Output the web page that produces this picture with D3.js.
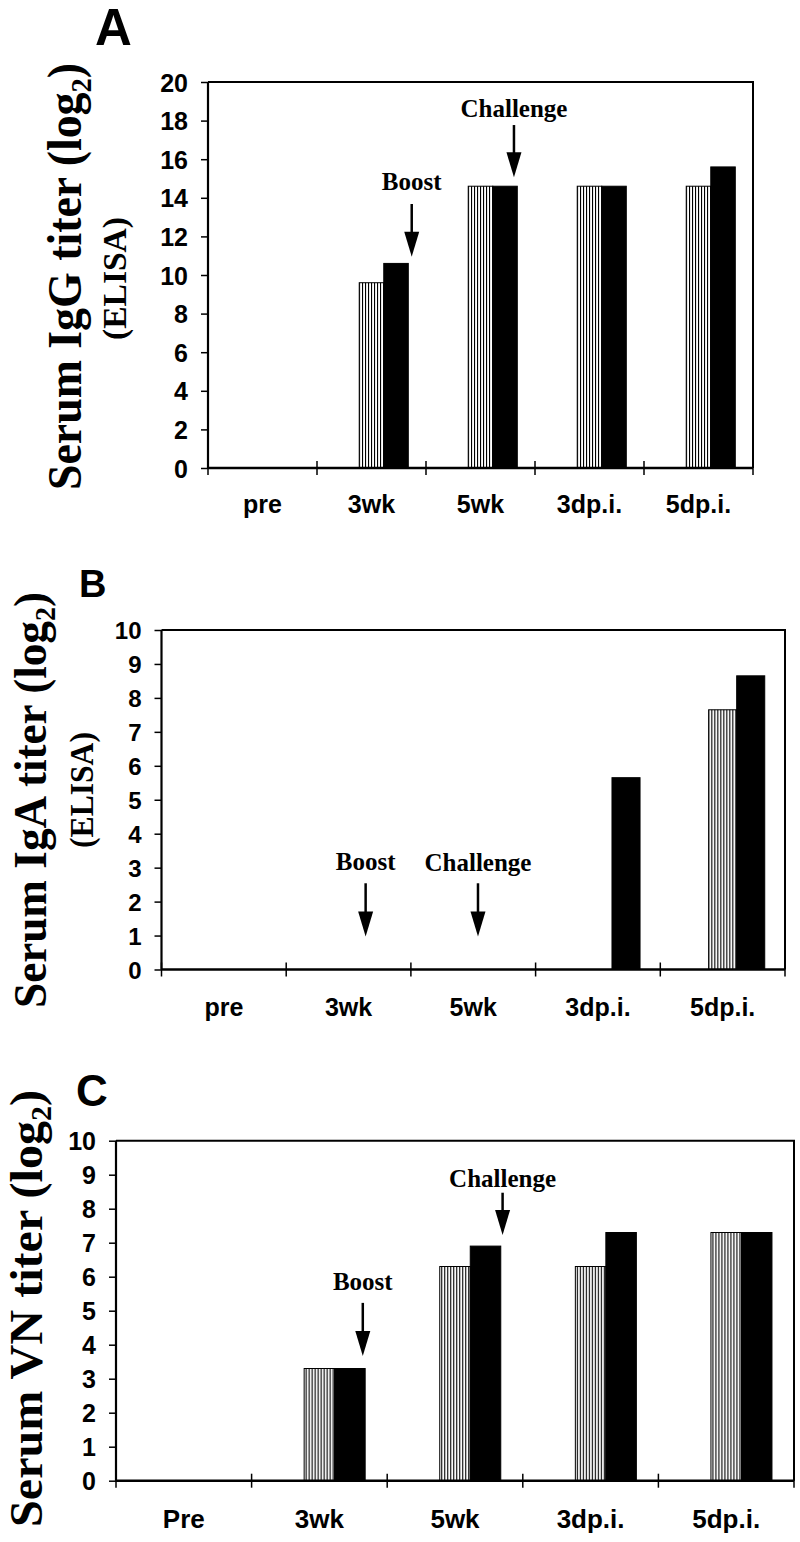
<!DOCTYPE html>
<html>
<head>
<meta charset="utf-8">
<script src="https://cdn.jsdelivr.net/npm/d3@7"></script>
<style>
  html, body { margin: 0; padding: 0; background: #fff; }
  svg { display: block; }
</style>
</head>
<body>
<svg id="chart" width="800" height="1542"></svg>
<script>
// ---------------- DATA ----------------
const categoriesAB = ["pre", "3wk", "5wk", "3dp.i.", "5dp.i."];
const categoriesC  = ["Pre", "3wk", "5wk", "3dp.i.", "5dp.i."];
const seriesKeys   = ["blank", "hatched", "solid"];

// Panel A: Serum IgG (ELISA)
const igGBlank   = [0, 0, 0, 0, 0];
const igGHatched = [0, 9.6, 14.6, 14.6, 14.6];
const igGSolid   = [0, 10.6, 14.6, 14.6, 15.6];
const ticksA     = [0, 2, 4, 6, 8, 10, 12, 14, 16, 18, 20];

// Panel B: Serum IgA (ELISA)
const igABlank   = [0, 0, 0, 0, 0];
const igAHatched = [0, 0, 0, 0, 7.65];
const igASolid   = [0, 0, 0, 5.65, 8.65];
const ticksB     = [0, 1, 2, 3, 4, 5, 6, 7, 8, 9, 10];

// Panel C: Serum VN titer
const vnBlank    = [0, 0, 0, 0, 0];
const vnHatched  = [0, 3.3, 6.3, 6.3, 7.3];
const vnSolid    = [0, 3.3, 6.9, 7.3, 7.3];
const ticksC     = [0, 1, 2, 3, 4, 5, 6, 7, 8, 9, 10];

// Annotations (category, position within band, arrow tip / tail / label in data units)
const annotA = [
  { label: "Boost",     cat: "3wk", frac: 0.869, tip: 10.95, tail: 13.68, text: 14.4 },
  { label: "Challenge", cat: "5wk", frac: 0.807, tip: 15.06, tail: 17.77, text: 18.17 }
];
const annotB = [
  { label: "Boost",     cat: "3wk", frac: 0.637, tip: 0.97, tail: 2.54, text: 2.93 },
  { label: "Challenge", cat: "5wk", frac: 0.538, tip: 0.97, tail: 2.54, text: 2.90 }
];
const annotC = [
  { label: "Boost",     cat: "3wk", frac: 0.82,  tip: 3.67, tail: 5.23, text: 5.6 },
  { label: "Challenge", cat: "5wk", frac: 0.851, tip: 7.23, tail: 8.47, text: 8.64 }
];

// ---------------- DRAW ----------------
const svg = d3.select("#chart");
const SANS = "'Liberation Sans', Arial, Helvetica, sans-serif";
const SERIF = "'Liberation Serif', 'Times New Roman', Times, serif";

const defs = svg.append("defs");
const pat = defs.append("pattern")
  .attr("id", "vhatch")
  .attr("patternUnits", "userSpaceOnUse")
  .attr("width", 3).attr("height", 10);
pat.append("rect").attr("width", 3).attr("height", 10).attr("fill", "#fff");
pat.append("rect").attr("x", 0).attr("width", 1.1).attr("height", 10).attr("fill", "#000");

const fills = { blank: "#fff", hatched: "url(#vhatch)", solid: "#000" };

function drawPanel(cfg) {
  const g = svg.append("g");
  const { left, right, top, bottom } = cfg;

  const x0 = d3.scaleBand().domain(cfg.categories).range([left, right]).padding(0);
  const bw = x0.bandwidth();
  const f = 0.225;
  const x1 = d3.scaleBand().domain(seriesKeys)
    .range([bw * (0.5 - 1.5 * f), bw * (0.5 + 1.5 * f)]).padding(0);
  const y = d3.scaleLinear().domain([0, cfg.yMax]).range([bottom, top]);

  // rows of data
  const rows = cfg.categories.map((c, i) => ({
    cat: c,
    values: seriesKeys.map(k => ({ key: k, value: cfg.series[k][i] }))
  }));

  // bars
  const grp = g.selectAll("g.cat").data(rows).join("g")
    .attr("class", "cat")
    .attr("transform", d => `translate(${x0(d.cat)},0)`);
  grp.selectAll("rect").data(d => d.values.filter(v => v.value > 0)).join("rect")
    .attr("x", d => x1(d.key))
    .attr("width", x1.bandwidth())
    .attr("y", d => y(d.value))
    .attr("height", d => y(0) - y(d.value))
    .attr("fill", d => fills[d.key])
    .attr("stroke", "#000")
    .attr("stroke-width", 1);

  // frame (top and right borders)
  g.append("path")
    .attr("d", `M${left},${top}H${right}V${bottom}`)
    .attr("fill", "none").attr("stroke", "#000").attr("stroke-width", 2);

  // y axis
  const yAxis = d3.axisLeft(y).tickValues(cfg.ticks).tickSize(7).tickPadding(13)
    .tickFormat(d3.format("d"));
  const ya = g.append("g").attr("transform", `translate(${left},0)`).call(yAxis);
  ya.select(".domain").attr("stroke-width", 2.2).attr("d", `M0,${top}V${bottom}`);
  ya.selectAll(".tick line").attr("stroke-width", 1.5);
  ya.selectAll(".tick text")
    .attr("font-family", SANS).attr("font-weight", "bold")
    .attr("font-size", cfg.tickFont).attr("fill", "#000")
    .attr("dy", "0.36em");

  // x axis: baseline line + crossing ticks at band boundaries
  g.append("line")
    .attr("x1", left).attr("x2", right).attr("y1", bottom).attr("y2", bottom)
    .attr("stroke", "#000").attr("stroke-width", 2.4);
  const bounds = cfg.categories.map(c => x0(c)).concat([x0.range()[1]]);
  g.selectAll("line.xt").data(bounds).join("line")
    .attr("class", "xt")
    .attr("x1", d => d).attr("x2", d => d)
    .attr("y1", bottom - 7).attr("y2", bottom + 7)
    .attr("stroke", "#000").attr("stroke-width", 1.5);
  g.selectAll("text.xl").data(cfg.categories).join("text")
    .attr("class", "xl")
    .attr("x", d => x0(d) + bw / 2)
    .attr("y", bottom + cfg.catOffset)
    .attr("text-anchor", "middle")
    .attr("font-family", SANS).attr("font-weight", "bold")
    .attr("font-size", cfg.catFont)
    .text(d => d);

  // annotations
  const ann = g.selectAll("g.ann").data(cfg.annotations).join("g").attr("class", "ann");
  const ax = d => x0(d.cat) + bw * d.frac;
  const headLen = 25, headHalf = 7.5;
  ann.append("line")
    .attr("x1", ax).attr("x2", ax)
    .attr("y1", d => y(d.tail)).attr("y2", d => y(d.tip) - headLen + 2)
    .attr("stroke", "#000").attr("stroke-width", 2.5);
  ann.append("path")
    .attr("d", d => {
      const xx = ax(d), ty = y(d.tip);
      return `M${xx},${ty}L${xx - headHalf},${ty - headLen}L${xx + headHalf},${ty - headLen}Z`;
    })
    .attr("fill", "#000");
  ann.append("text")
    .attr("x", ax)
    .attr("y", d => y(d.text))
    .attr("text-anchor", "middle")
    .attr("font-family", SERIF).attr("font-weight", "bold")
    .attr("font-size", 25)
    .text(d => d.label);

  // panel letter
  svg.append("text")
    .attr("x", cfg.letter.x).attr("y", cfg.letter.y)
    .attr("font-family", SANS).attr("font-weight", "bold")
    .attr("font-size", cfg.letter.size)
    .text(cfg.letter.text);

  // y titles
  cfg.titles.forEach(t => {
    const tx = svg.append("text")
      .attr("transform", `translate(${t.x},${t.y}) rotate(-90)`)
      .attr("text-anchor", "middle")
      .attr("font-family", SERIF).attr("font-weight", "bold")
      .attr("font-size", t.size)
      .attr("textLength", t.len)
      .attr("lengthAdjust", "spacingAndGlyphs");
    tx.append("tspan").text(t.text);
    if (t.sub) {
      tx.append("tspan").attr("font-size", t.size * 0.62).attr("dy", t.size * 0.2).text(t.sub);
      tx.append("tspan").attr("dy", -t.size * 0.2).text(t.end);
    }
  });
}

drawPanel({
  categories: categoriesAB,
  series: { blank: igGBlank, hatched: igGHatched, solid: igGSolid },
  ticks: ticksA, yMax: 20,
  left: 208, right: 753, top: 82, bottom: 468,
  tickFont: 25, catFont: 25, catOffset: 45,
  annotations: annotA,
  letter: { text: "A", x: 95, y: 45, size: 51 },
  titles: [
    { x: 81, y: 276.5, size: 49, len: 427, text: "Serum IgG titer (log", sub: "2", end: ")" },
    { x: 126, y: 278.5, size: 33, len: 123, text: "(ELISA)" }
  ]
});

drawPanel({
  categories: categoriesAB,
  series: { blank: igABlank, hatched: igAHatched, solid: igASolid },
  ticks: ticksB, yMax: 10,
  left: 161.5, right: 785, top: 630, bottom: 969.5,
  tickFont: 24, catFont: 25, catOffset: 46.5,
  annotations: annotB,
  letter: { text: "B", x: 79, y: 597, size: 38 },
  titles: [
    { x: 46, y: 800, size: 46, len: 416, text: "Serum IgA titer (log", sub: "2", end: ")" },
    { x: 93, y: 790, size: 33, len: 116, text: "(ELISA)" }
  ]
});

drawPanel({
  categories: categoriesC,
  series: { blank: vnBlank, hatched: vnHatched, solid: vnSolid },
  ticks: ticksC, yMax: 10,
  left: 116, right: 794, top: 1140.7, bottom: 1480.7,
  tickFont: 25, catFont: 26, catOffset: 47.5,
  annotations: annotC,
  letter: { text: "C", x: 76, y: 1106, size: 44 },
  titles: [
    { x: 42, y: 1308.5, size: 47, len: 437, text: "Serum VN titer (log", sub: "2", end: ")" }
  ]
});
</script>
</body>
</html>
